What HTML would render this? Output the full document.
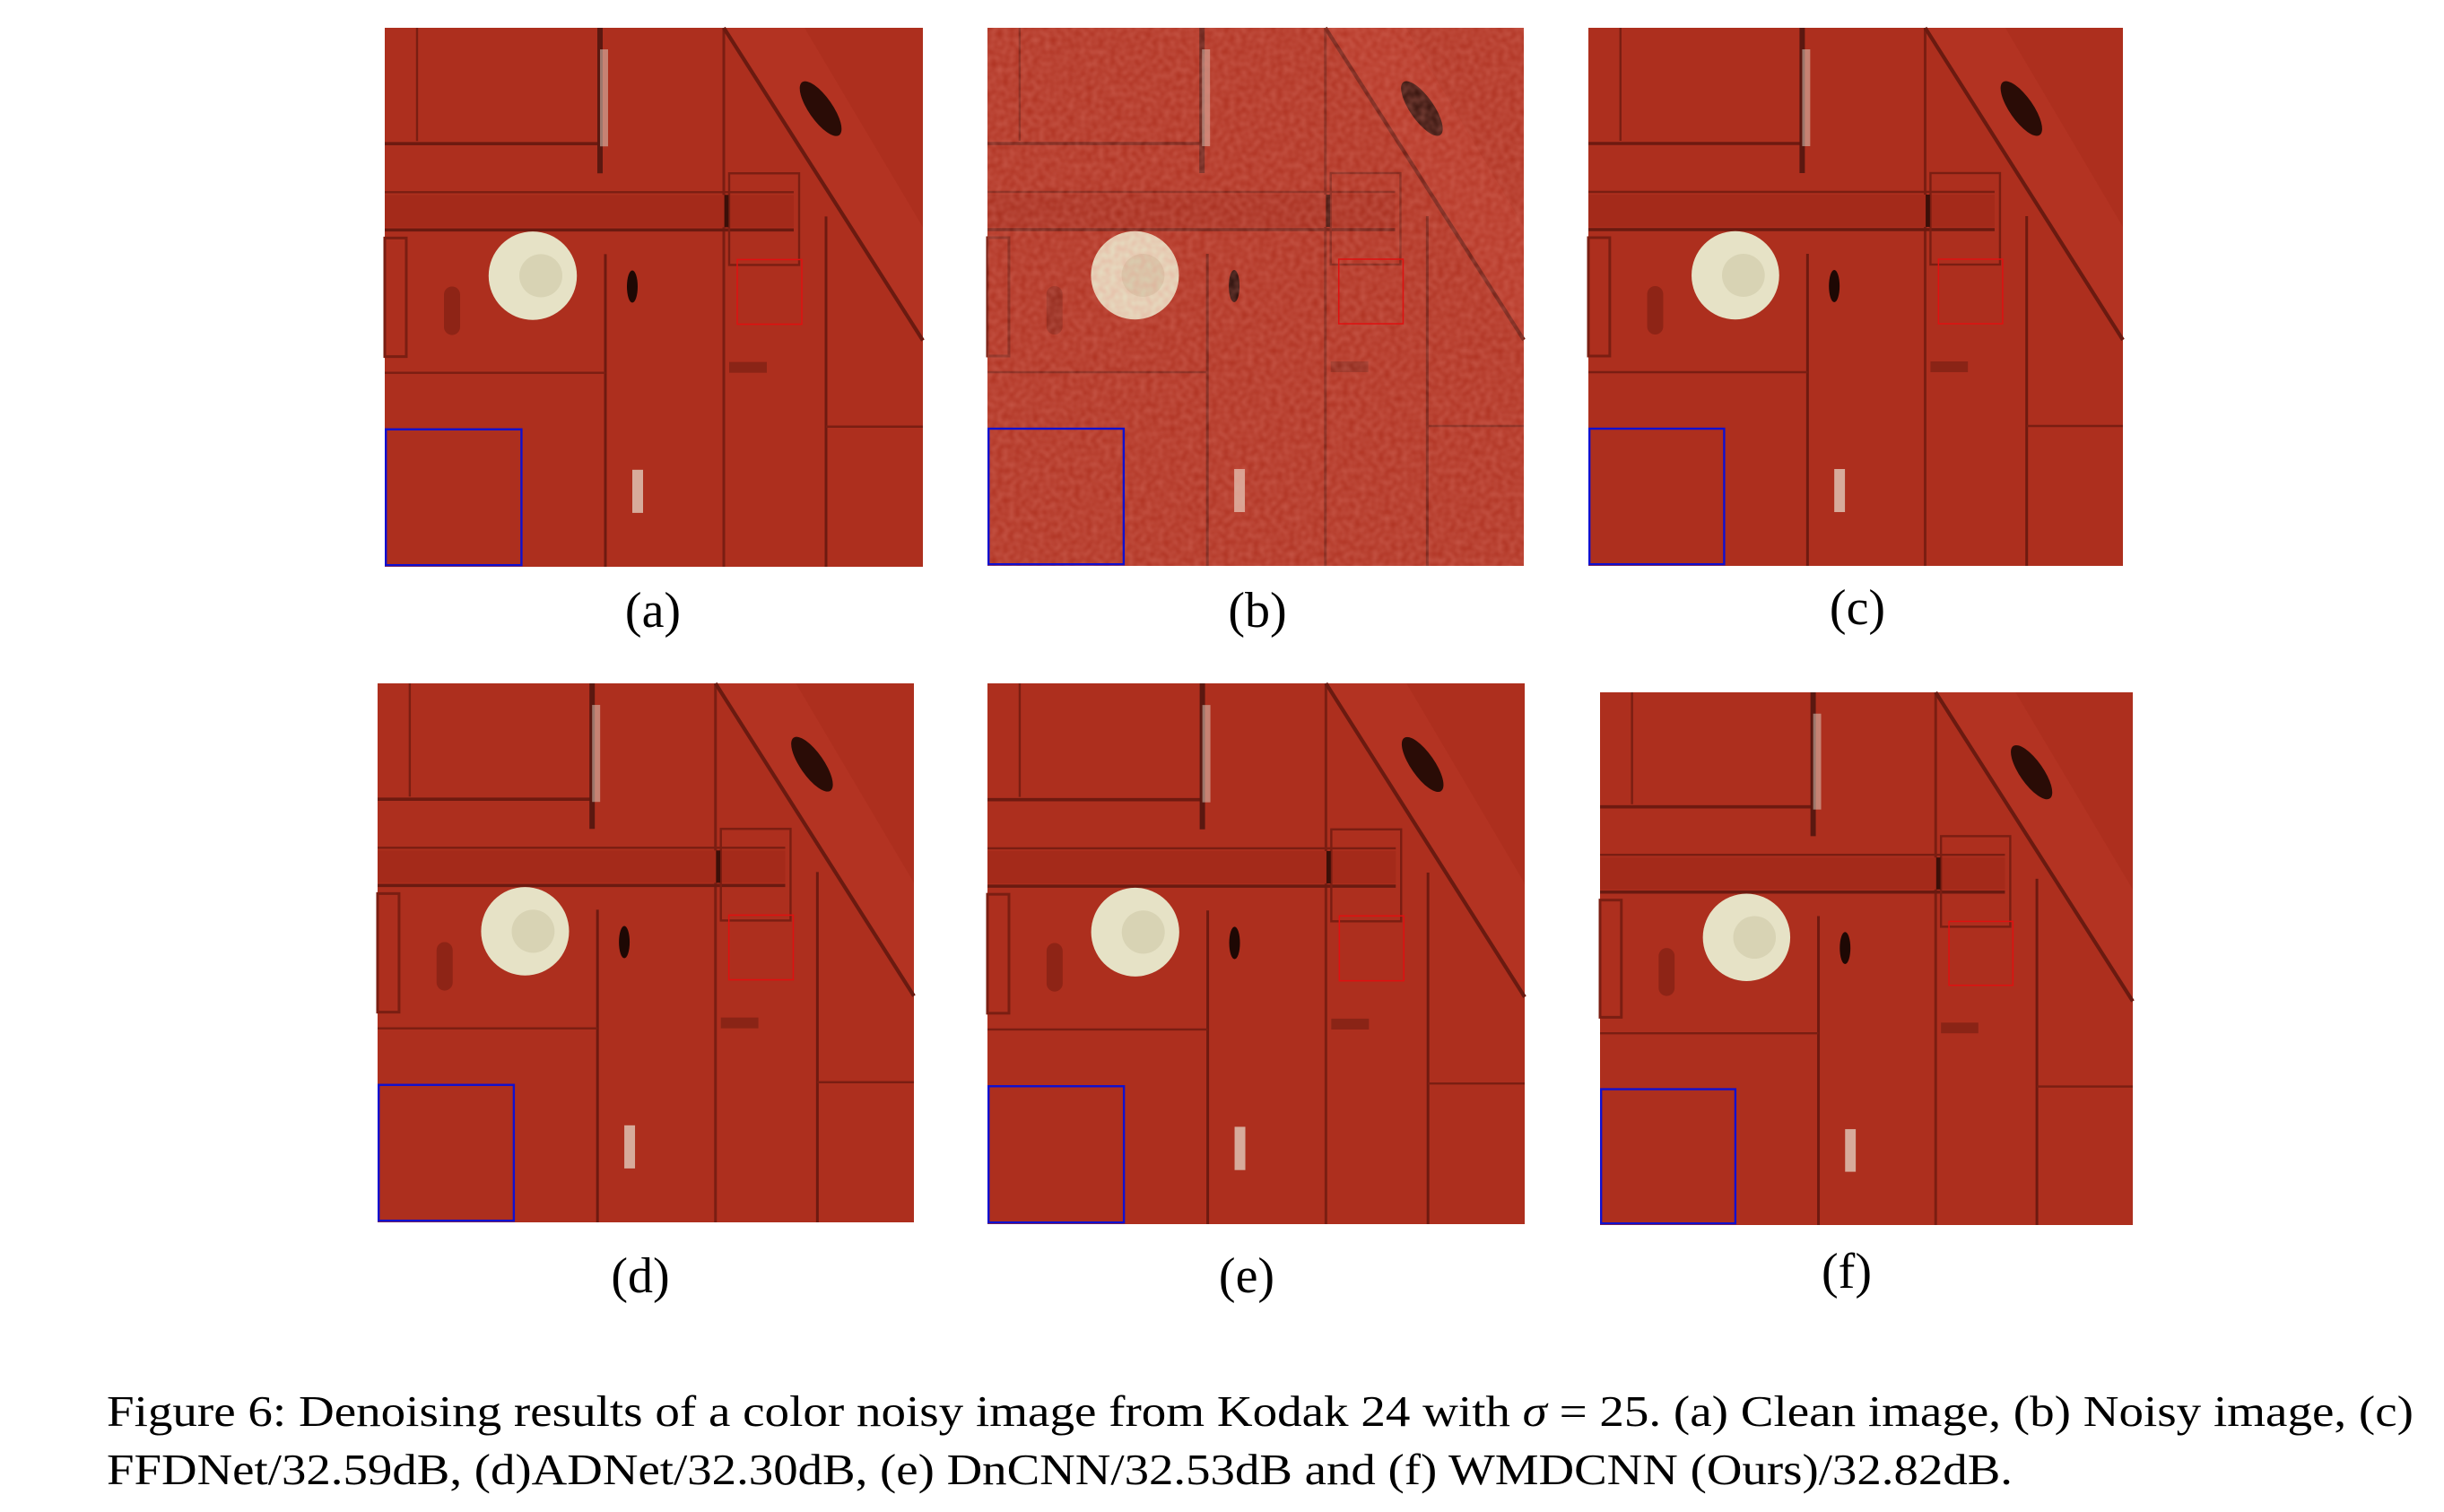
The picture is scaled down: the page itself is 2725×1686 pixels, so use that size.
<!DOCTYPE html>
<html><head><meta charset="utf-8"><style>
html,body{margin:0;padding:0;background:#fff;}
svg{display:block;}
</style></head><body>
<svg width="2725" height="1686" viewBox="0 0 2725 1686" xmlns="http://www.w3.org/2000/svg">
<defs>
<filter id="noise" x="0" y="0" width="100%" height="100%">
<feTurbulence type="fractalNoise" baseFrequency="0.9" numOctaves="1" result="t"/>
<feColorMatrix in="t" type="matrix" values="0 0 0 0 0.8  0 0 0 0 0.25  0 0 0 0 0.2  0 0 0 0.45 0"/>
<feComposite in2="SourceGraphic" operator="in"/>
</filter>
<g id="door">
<rect x="0" y="0" width="100" height="100" fill="#ad2f1e"/>
<line x1="0" y1="21.5" x2="40" y2="21.5" stroke="#6e1a10" stroke-width="0.6"/>
<line x1="40" y1="0" x2="40" y2="27" stroke="#5a1810" stroke-width="1"/>
<line x1="6" y1="0" x2="6" y2="21" stroke="#7a1e12" stroke-width="0.4"/>
<line x1="63" y1="0" x2="63" y2="100" stroke="#7a1e12" stroke-width="0.5"/>
<line x1="82" y1="35" x2="82" y2="100" stroke="#6e1a10" stroke-width="0.5"/>
<line x1="41" y1="42" x2="41" y2="100" stroke="#6e1a10" stroke-width="0.5"/>
<line x1="0" y1="64" x2="41" y2="64" stroke="#7a1e12" stroke-width="0.4"/>
<line x1="82" y1="74" x2="100" y2="74" stroke="#7a1e12" stroke-width="0.4"/>
<rect x="0" y="31" width="76" height="6" fill="#a42a1a"/>
<line x1="0" y1="37.5" x2="76" y2="37.5" stroke="#6a1a10" stroke-width="0.6"/>
<line x1="0" y1="30.5" x2="76" y2="30.5" stroke="#7a1e12" stroke-width="0.4"/>
<rect x="64" y="27" width="13" height="17" fill="none" stroke="#7a1e12" stroke-width="0.4"/>
<line x1="63.5" y1="31" x2="63.5" y2="37" stroke="#3a0f08" stroke-width="0.8"/>
<polygon points="63,0 78,0 100,37 100,58" fill="#b33322"/>
<line x1="63" y1="0" x2="100" y2="58" stroke="#6a1a10" stroke-width="0.7"/>
<ellipse cx="81" cy="15" rx="2.2" ry="6" transform="rotate(-35 81 15)" fill="#2a0c06"/>
<circle cx="27.5" cy="46" r="8.2" fill="#e6e2c6"/>
<circle cx="29" cy="46" r="4" fill="#cfcaa8" opacity="0.6"/>
<rect x="11" y="48" width="3" height="9" rx="1.5" fill="#8e2416"/>
<rect x="0" y="39" width="4" height="22" fill="none" stroke="#7a1e12" stroke-width="0.5"/>
<ellipse cx="46" cy="48" rx="1" ry="3" fill="#1e0804"/>
<rect x="64" y="62" width="7" height="2" fill="#8a2416"/>
<rect x="46" y="82" width="2" height="8" fill="#e8dfd0" opacity="0.7"/>
<rect x="40" y="4" width="1.5" height="18" fill="#e0d6c8" opacity="0.5"/>
</g>
</defs>

<g transform="translate(429,31) scale(6.0,6.01)">
<use href="#door"/>
<rect x="65.5" y="43" width="12" height="12" fill="none" stroke="#e01010" stroke-width="0.25"/>
<rect x="0.2" y="74.5" width="25.2" height="25.2" fill="none" stroke="#1010d0" stroke-width="0.4"/>
</g>
<g transform="translate(1101,31) scale(5.98,6.0)">
<use href="#door"/>
<rect x="0" y="0" width="100" height="100" fill="#b1311f" filter="url(#noise)"/>
<rect x="65.5" y="43" width="12" height="12" fill="none" stroke="#e01010" stroke-width="0.25"/>
<rect x="0.2" y="74.5" width="25.2" height="25.2" fill="none" stroke="#1010d0" stroke-width="0.4"/>
</g>
<g transform="translate(1771,31) scale(5.96,6.0)">
<use href="#door"/>
<rect x="65.5" y="43" width="12" height="12" fill="none" stroke="#e01010" stroke-width="0.25"/>
<rect x="0.2" y="74.5" width="25.2" height="25.2" fill="none" stroke="#1010d0" stroke-width="0.4"/>
</g>
<g transform="translate(421,762) scale(5.98,6.01)">
<use href="#door"/>
<rect x="65.5" y="43" width="12" height="12" fill="none" stroke="#e01010" stroke-width="0.25"/>
<rect x="0.2" y="74.5" width="25.2" height="25.2" fill="none" stroke="#1010d0" stroke-width="0.4"/>
</g>
<g transform="translate(1101,762) scale(5.99,6.03)">
<use href="#door"/>
<rect x="65.5" y="43" width="12" height="12" fill="none" stroke="#e01010" stroke-width="0.25"/>
<rect x="0.2" y="74.5" width="25.2" height="25.2" fill="none" stroke="#1010d0" stroke-width="0.4"/>
</g>
<g transform="translate(1784,772) scale(5.94,5.94)">
<use href="#door"/>
<rect x="65.5" y="43" width="12" height="12" fill="none" stroke="#e01010" stroke-width="0.25"/>
<rect x="0.2" y="74.5" width="25.2" height="25.2" fill="none" stroke="#1010d0" stroke-width="0.4"/>
</g>

<g font-family="Liberation Serif, serif" font-size="56" fill="#000" text-anchor="middle">
<text x="728" y="699">(a)</text>
<text x="1402" y="699">(b)</text>
<text x="2071" y="696">(c)</text>
<text x="714" y="1441">(d)</text>
<text x="1390" y="1441">(e)</text>
<text x="2059" y="1436">(f)</text>
</g>
<g font-family="Liberation Serif, serif" font-size="49" fill="#000">
<text x="119" y="1590" textLength="2572" lengthAdjust="spacingAndGlyphs">Figure 6: Denoising results of a color noisy image from Kodak 24 with <tspan font-style="italic">σ</tspan> = 25. (a) Clean image, (b) Noisy image, (c)</text>
<text x="119" y="1655" textLength="2125" lengthAdjust="spacingAndGlyphs">FFDNet/32.59dB, (d)ADNet/32.30dB, (e) DnCNN/32.53dB and (f) WMDCNN (Ours)/32.82dB.</text>
</g>
</svg>
</body></html>
